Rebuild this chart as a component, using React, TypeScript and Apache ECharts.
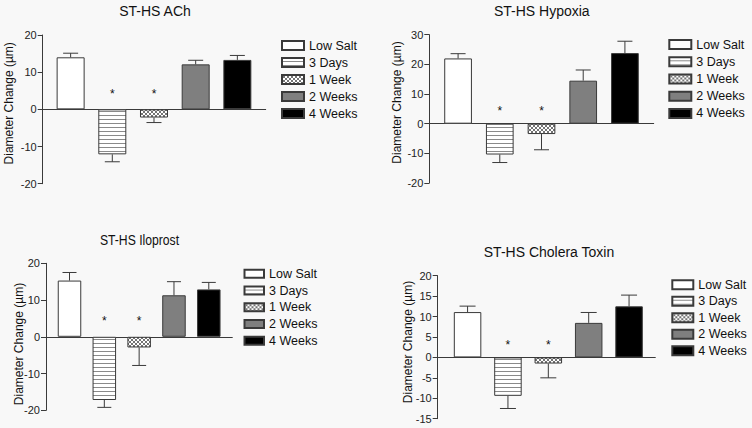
import React, { useEffect, useRef } from "react";
import * as echarts from "echarts";

// ---------- data ----------
const categories = ["Low Salt", "3 Days", "1 Week", "2 Weeks", "4 Weeks"];
const panelTitles = ["ST-HS ACh", "ST-HS Hypoxia", "ST-HS Iloprost", "ST-HS Cholera Toxin"];
const yAxisTitle = "Diameter Change (µm)";

const achMeans = [14.0, -12.1, -2.2, 12.1, 13.3];
const achErrors = [1.1, 2.0, 1.35, 1.1, 1.2];
const hypoxiaMeans = [22.0, -10.4, -3.5, 14.5, 23.8];
const hypoxiaErrors = [1.6, 2.7, 5.3, 3.6, 4.0];
const iloprostMeans = [15.3, -17.2, -2.9, 11.3, 12.9];
const iloprostErrors = [2.2, 2.0, 4.9, 3.7, 1.9];
const choleraMeans = [11.1, -9.4, -1.5, 8.45, 12.5];
const choleraErrors = [1.45, 3.1, 3.5, 2.55, 2.75];
const significant = [false, true, true, false, false];

// y-axis ticks: [min, max, interval]
const achTicks = [-20, 20, 10];
const hypoxiaTicks = [-20, 30, 10];
const iloprostTicks = [-20, 20, 10];
const choleraTicks = [-15, 20, 5];
const starLevels = [5, 5.2, 5, 3.8];

const panelMeans = [achMeans, hypoxiaMeans, iloprostMeans, choleraMeans];
const panelErrors = [achErrors, hypoxiaErrors, iloprostErrors, choleraErrors];
const panelTicks = [achTicks, hypoxiaTicks, iloprostTicks, choleraTicks];

// ---------- layout (pixels) ----------
const layouts = [
  { grid: [42.7, 35, 223, 148.7], xr: [-0.67, 4.68], barW: 28, cap: 15, title: [155, 11], ylab: [9.3, 103.3],
    legend: [281, 37, 22, 9, 17], titleScale: 1 },
  { grid: [429.3, 34.7, 224.4, 148.3], xr: [-0.69, 4.69], barW: 27.7, cap: 15, title: [541.8, 11], ylab: [396.7, 102.5],
    legend: [668.3, 36, 22, 9, 17.2], titleScale: 1 },
  { grid: [46, 263.3, 186.3, 147], xr: [-0.675, 4.675], barW: 23.5, cap: 14, title: [139.5, 240], ylab: [19, 344],
    legend: [243.5, 265.5, 19.5, 8, 16.7], titleScale: 0.87 },
  { grid: [437.7, 275.7, 217.6, 143], xr: [-0.74, 4.65], barW: 27.5, cap: 16, title: [549, 252.3], ylab: [407.7, 342],
    legend: [671.3, 276.5, 21, 9, 16.5], titleScale: 1 },
];

const FONT = "'Liberation Sans', Arial, sans-serif";
const BG = "#f8f8f8";
const EDGE = "#3a3a3a";

function makePattern(kind: string) {
  const c = document.createElement("canvas");
  c.width = 4;
  c.height = 4;
  const ctx = c.getContext("2d")!;
  ctx.fillStyle = "#ffffff";
  ctx.fillRect(0, 0, 4, 4);
  if (kind === "stripes") {
    ctx.fillStyle = "#8a8a8a";
    ctx.fillRect(0, 3, 4, 1);
  } else {
    ctx.fillStyle = "#747474";
    for (let i = 0; i < 4; i++) {
      ctx.fillRect(i, i, 1, 1);
      ctx.fillRect(3 - i, i, 1, 1);
    }
  }
  return { image: c, repeat: "repeat", imageWidth: 4, imageHeight: 4 } as any;
}

export default function App() {
  const ref = useRef<HTMLDivElement>(null);
  useEffect(() => {
    document.body.style.margin = "0";
    const chart = echarts.init(ref.current!, null, { renderer: "svg" });
    const fills: any[] = ["#ffffff", makePattern("stripes"), makePattern("cross"), "#7f7f7f", "#000000"];

    const grid: any[] = [];
    const xAxis: any[] = [];
    const yAxis: any[] = [];
    const series: any[] = [];
    const legend: any[] = [];
    const graphic: any[] = [];

    layouts.forEach((L, p) => {
      const [tmin, tmax, tint] = panelTicks[p];
      grid.push({ left: L.grid[0], top: L.grid[1], width: L.grid[2], height: L.grid[3], containLabel: false });
      xAxis.push({
        type: "value", gridIndex: p, min: L.xr[0], max: L.xr[1],
        axisLine: { show: true, onZero: true, lineStyle: { color: EDGE, width: 1 } },
        axisTick: { show: false }, axisLabel: { show: false }, splitLine: { show: false },
      });
      yAxis.push({
        type: "value", gridIndex: p, min: tmin, max: tmax, interval: tint,
        axisLine: { show: true, onZero: false, lineStyle: { color: EDGE, width: 1 } },
        axisTick: { show: true, length: 5, lineStyle: { color: EDGE } },
        axisLabel: { fontSize: 11, color: "#222", margin: 6, fontFamily: FONT },
        splitLine: { show: false },
      });
      categories.forEach((name, i) => {
        series.push({
          type: "bar", name, xAxisIndex: p, yAxisIndex: p,
          data: [[i, panelMeans[p][i]]],
          barWidth: L.barW, barGap: "-100%",
          itemStyle: { color: fills[i], borderColor: EDGE, borderWidth: 1 },
          emphasis: { disabled: true }, z: 2,
        });
      });
      series.push({
        type: "custom", xAxisIndex: p, yAxisIndex: p, z: 3, silent: true,
        data: panelMeans[p].map((m, i) => [i, m, panelErrors[p][i]]),
        renderItem: (params: any, api: any) => {
          const x = api.value(0), v = api.value(1), e = api.value(2);
          const s = v >= 0 ? 1 : -1;
          const a = api.coord([x, v]);
          const b = api.coord([x, v + s * e]);
          const st = { stroke: EDGE, lineWidth: 1 };
          return {
            type: "group",
            children: [
              { type: "line", shape: { x1: a[0], y1: a[1], x2: b[0], y2: b[1] }, style: st },
              { type: "line", shape: { x1: b[0] - L.cap / 2, y1: b[1], x2: b[0] + L.cap / 2, y2: b[1] }, style: st },
            ],
          };
        },
      });
      series.push({
        type: "custom", xAxisIndex: p, yAxisIndex: p, z: 3, silent: true,
        data: significant.map((sg, i) => (sg ? [i, starLevels[p]] : null)).filter(Boolean),
        renderItem: (params: any, api: any) => {
          const c = api.coord([api.value(0), api.value(1)]);
          return {
            type: "text", x: c[0], y: c[1] + 3,
            style: { text: "*", fontSize: 12, fontFamily: FONT, fill: "#111", align: "center", verticalAlign: "middle" },
          };
        },
      });
      legend.push({
        orient: "vertical", left: L.legend[0], top: L.legend[1], padding: 0,
        itemWidth: L.legend[2], itemHeight: L.legend[3], itemGap: 0, icon: "rect",
        selectedMode: false, data: categories,
        textStyle: { fontSize: 12.5, color: "#111", fontFamily: FONT, fontWeight: "normal", lineHeight: L.legend[4] },
      });
      graphic.push({
        type: "text", x: L.title[0], y: L.title[1], scaleX: L.titleScale, silent: true,
        style: { text: panelTitles[p], fontSize: 14, fontWeight: "normal", fontFamily: FONT, fill: "#111", align: "center", verticalAlign: "middle" },
      });
      graphic.push({
        type: "text", x: L.ylab[0], y: L.ylab[1], rotation: Math.PI / 2, silent: true,
        style: { text: yAxisTitle, fontSize: 12, fontWeight: "normal", fontFamily: FONT, fill: "#111", align: "center", verticalAlign: "middle" },
      });
    });

    chart.setOption({
      animation: false,
      backgroundColor: BG,
      grid, xAxis, yAxis, series, legend, graphic,
    });
    return () => chart.dispose();
  }, []);
  return <div ref={ref} style={{ width: 752, height: 428 }} />;
}
